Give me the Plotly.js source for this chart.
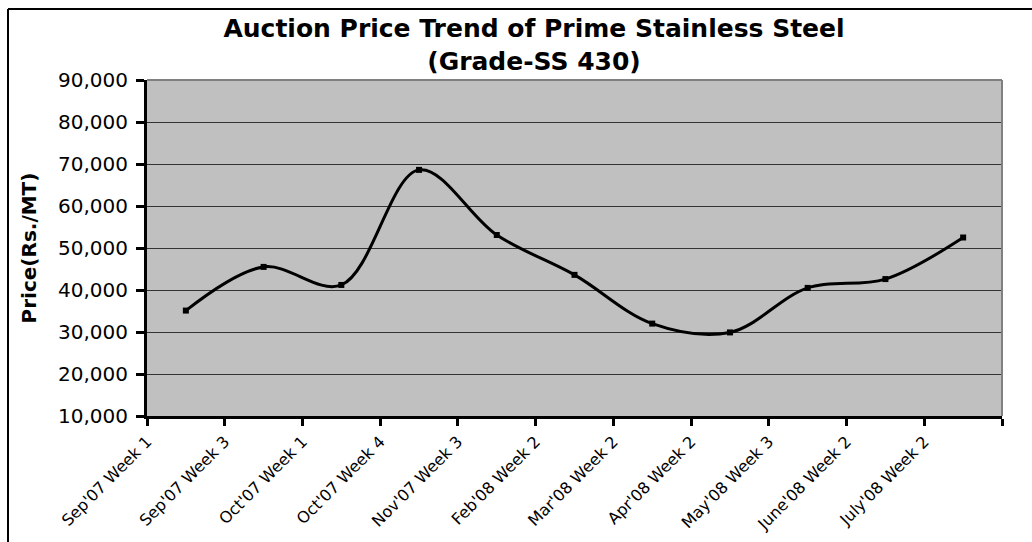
<!DOCTYPE html>
<html>
<head>
<meta charset="utf-8">
<script src="https://cdn.plot.ly/plotly-3.0.1.min.js"></script>
<style>
  html, body { margin: 0; padding: 0; background: #ffffff; }
  #chart { width: 1032px; height: 542px; }
</style>
</head>
<body>
<div id="chart"></div>
<script>
// Weekly auction prices (Rs./MT), one value per auction week
const weeks = [
  "Sep'07 Week 1", "Sep'07 Week 3", "Oct'07 Week 1", "Oct'07 Week 4",
  "Nov'07 Week 3", "Feb'08 Week 2", "Mar'08 Week 2", "Apr'08 Week 2",
  "May'08 Week 3", "June'08 Week 2", "July'08 Week 2"
];
const prices = [35100, 45500, 41200, 68600, 53100, 43600, 32000, 29900, 40500, 42600, 52500];
const priceTicks = [10000, 20000, 30000, 40000, 50000, 60000, 70000, 80000, 90000];

// each week sits in the middle of its category slot; slot boundaries carry the labels
const slotCenters = weeks.map((_, i) => i + 0.5);
const boundaryVals = weeks.map((_, i) => i).concat([weeks.length]);
const boundaryText = weeks.concat([""]);

// plot area geometry in pixels, used to place the outer chart frame
const W = 1032, H = 542;
const M = { l: 147, r: 30, t: 80, b: 126 };
const pw = W - M.l - M.r, ph = H - M.t - M.b;
const px = x => (x - M.l) / pw;
const py = y => (H - M.b - y) / ph;

const trace = {
  type: 'scatter',
  mode: 'lines+markers',
  x: slotCenters,
  y: prices,
  line: { color: '#000000', width: 3, shape: 'spline', smoothing: 1 },
  marker: { symbol: 'square', size: 6, color: '#000000' },
  hoverinfo: 'skip',
  showlegend: false
};

const layout = {
  width: W,
  height: H,
  margin: M,
  paper_bgcolor: '#ffffff',
  plot_bgcolor: '#c0c0c0',
  font: { family: 'DejaVu Sans, sans-serif', color: '#000000' },
  title: {
    text: 'Auction Price Trend of Prime Stainless Steel<br>(Grade-SS 430)',
    font: { family: 'DejaVu Sans, sans-serif', size: 25, weight: 'bold', color: '#000000' },
    xref: 'container', x: 534 / W, xanchor: 'center',
    yref: 'container', y: 1 - 37 / H, yanchor: 'top',
    pad: { t: 0, b: 0, l: 0, r: 0 }
  },
  xaxis: {
    range: [0, weeks.length],
    tickmode: 'array',
    tickvals: boundaryVals,
    ticktext: boundaryText,
    tickangle: -45,
    ticks: 'outside',
    ticklen: 7,
    tickwidth: 3,
    tickcolor: '#000000',
    tickfont: { size: 16, color: '#000000' },
    showline: true,
    linecolor: '#000000',
    linewidth: 3,
    showgrid: false,
    zeroline: false,
    fixedrange: true
  },
  yaxis: {
    range: [10000, 90000],
    tickmode: 'array',
    tickvals: priceTicks,
    tickformat: ',d',
    ticks: 'outside',
    ticklen: 8,
    tickwidth: 3,
    tickcolor: '#000000',
    tickfont: { size: 20, color: '#000000' },
    ticklabelstandoff: 4,
    showline: true,
    linecolor: '#000000',
    linewidth: 3,
    showgrid: true,
    gridcolor: '#333333',
    gridwidth: 1,
    zeroline: false,
    fixedrange: true,
    title: {
      text: 'Price(Rs./MT)',
      font: { size: 20, weight: 'bold', color: '#000000' },
      standoff: 17
    }
  },
  shapes: [
    // plot area border on the top and right
    { type: 'line', xref: 'paper', yref: 'paper', x0: 0, x1: 1, y0: 1, y1: 1,
      line: { color: '#808080', width: 2 } },
    { type: 'line', xref: 'paper', yref: 'paper', x0: 1, x1: 1, y0: 0, y1: 1,
      line: { color: '#808080', width: 2 } },
    // outer chart frame
    { type: 'line', xref: 'paper', yref: 'paper', x0: px(8), x1: px(W + 10), y0: py(9), y1: py(9),
      line: { color: '#000000', width: 2 } },
    { type: 'line', xref: 'paper', yref: 'paper', x0: px(8), x1: px(8), y0: py(9), y1: py(H + 10),
      line: { color: '#000000', width: 2 } }
  ]
};

Plotly.newPlot('chart', [trace], layout, { displayModeBar: false, staticPlot: true });
</script>
</body>
</html>
